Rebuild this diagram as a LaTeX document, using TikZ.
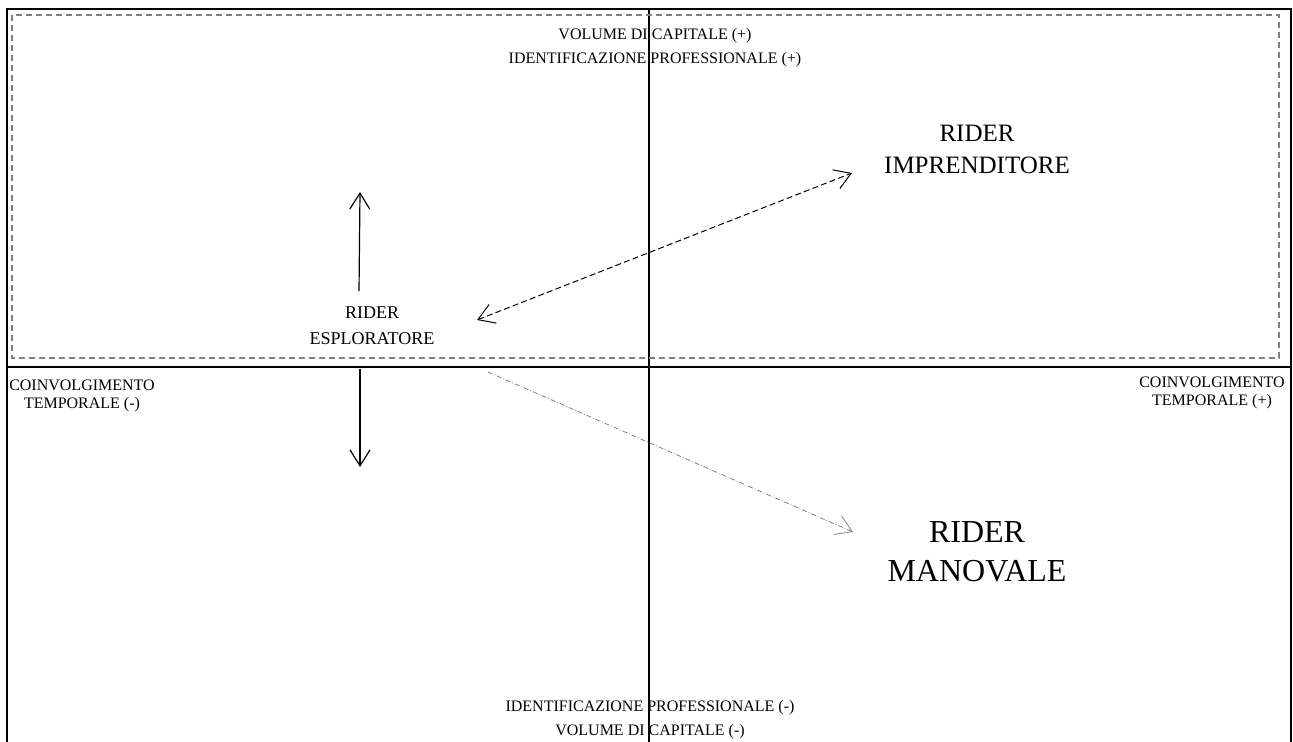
\documentclass[tikz,border=0pt]{standalone}
\usepackage{fontspec}
\setmainfont{Liberation Serif}
\usetikzlibrary{arrows.meta}

\begin{document}
\begin{tikzpicture}[
	x = 0.5pt, y = -0.5pt, % pixel grid, y pointing down
	> = {Straight Barb[length=8pt, width=10pt]}, % open arrow head
	semithick % line style
	]
	
	\tikzstyle{axis label}=[
	font = \fontsize{8}{12}\selectfont,
	align = center,
	inner sep = 0pt
	]
	\tikzstyle{side label}=[
	font = \fontsize{8}{9}\selectfont,
	align = center,
	inner sep = 0pt
	]
	\tikzstyle{frame}=[line width = 1pt]
	\tikzstyle{zone}=[gray, line width = 0.6pt, dash pattern = on 3pt off 2pt]
	\tikzstyle{link}=[line width = 0.5pt, dash pattern = on 3pt off 1.6pt]
	\tikzstyle{drift}=[gray, line width = 0.4pt, dash pattern = on 2.5pt off 1pt on 0.4pt off 1pt]
	
	\useasboundingbox (0,0) rectangle (1293,742);
	
	% frame and axes
	\coordinate (bl) at (7,742);
	\coordinate (tl) at (7,9);
	\coordinate (tr) at (1291,9);
	\coordinate (br) at (1291,742);
	\coordinate (xl) at (7,367);
	\coordinate (xr) at (1291,367);
	\coordinate (yt) at (649,9);
	\coordinate (yb) at (649,742);
	
	\draw[frame] (bl) -- (tl) -- (tr) -- (br);
	\draw[frame] (xl) -- (xr);
	\draw[frame] (yt) -- (yb);
	
	% upper zone
	\coordinate (z1) at (12,15);
	\coordinate (z2) at (1279,358);
	\draw[zone] (z1) rectangle (z2);
	
	% axis labels
	\node[axis label] (cap top) at (655,47.5) {VOLUME DI CAPITALE (+)\\IDENTIFICAZIONE PROFESSIONALE (+)};
	\node[axis label] (cap bottom) at (650,720) {IDENTIFICAZIONE PROFESSIONALE (-)\\VOLUME DI CAPITALE (-)};
	\node[side label] (time left) at (82,396) {COINVOLGIMENTO\\TEMPORALE (-)};
	\node[side label] (time right) at (1212,393) {COINVOLGIMENTO\\TEMPORALE (+)};
	
	% rider types
	\node[align=center, inner sep=0pt, font=\fontsize{9}{13}\selectfont] (esploratore) at (372,326) {RIDER\\ESPLORATORE};
	\node[align=center, inner sep=0pt, font=\fontsize{12.5}{16}\selectfont] (imprenditore) at (977,149) {RIDER\\IMPRENDITORE};
	\node[align=center, inner sep=0pt, font=\fontsize{16}{19.5}\selectfont] (manovale) at (977,551.5) {RIDER\\MANOVALE};
	
	% arrow ends
	\coordinate (up from) at (359,291);
	\coordinate (up to) at (360,192);
	\coordinate (down from) at (360,369);
	\coordinate (down to) at (360,467);
	\coordinate (esp end) at (477,320);
	\coordinate (imp end) at (852,173);
	\coordinate (drift from) at (488,372);
	\coordinate (man end) at (853,532);
	
	\draw[->] (up from) -- (up to);
	\draw[->] (down from) -- (down to);
	\draw[<->, link] (esp end) -- (imp end);
	\draw[->, drift] (drift from) -- (man end);
	
\end{tikzpicture}
\end{document}
